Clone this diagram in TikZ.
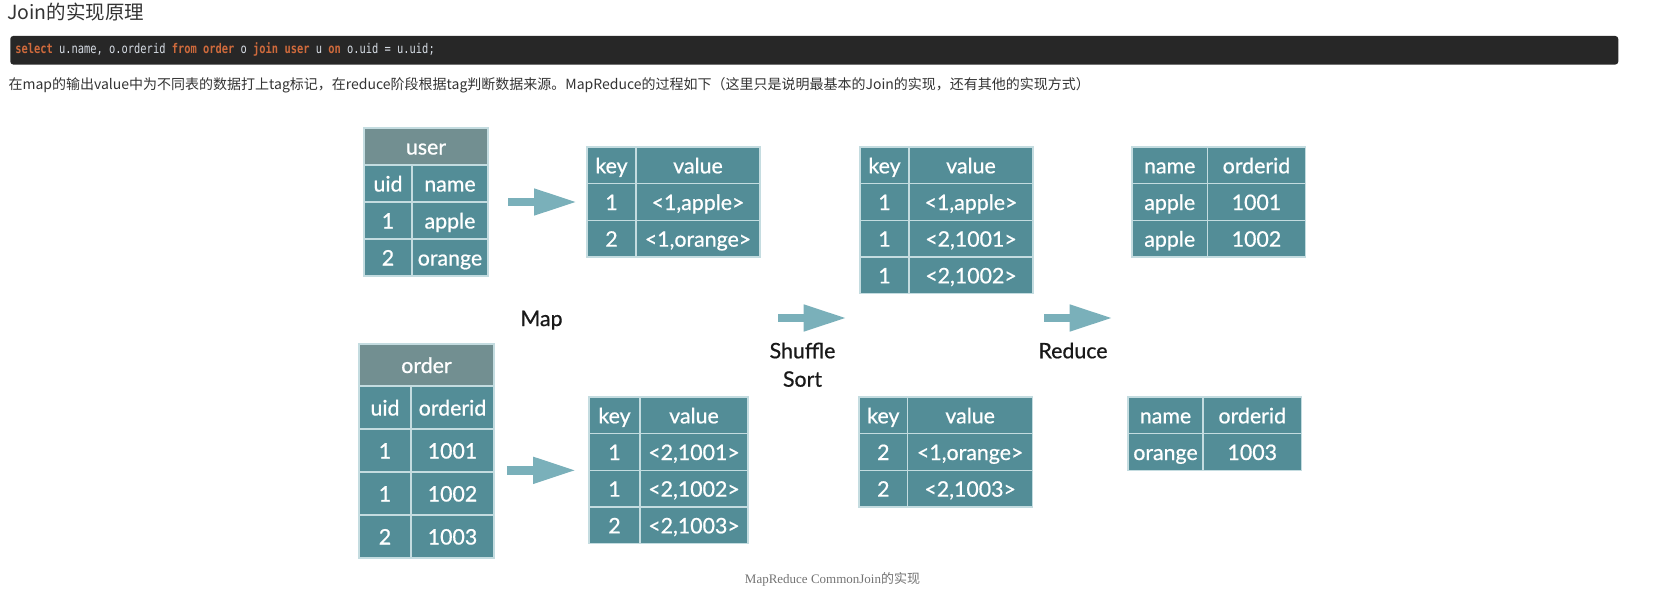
\documentclass[tikz,border=0pt]{standalone}
\usepackage{fontspec}
\usetikzlibrary{arrows.meta,positioning,fit}

\newfontfamily\cellfont[FakeBold=0.7]{Lato}
\newfontfamily\cjkfont{Noto Sans CJK SC}
\newfontfamily\codefont[FakeStretch=0.78]{DejaVu Sans Mono}
\newfontfamily\capfont{Liberation Serif}

\definecolor{tealcell}{RGB}{83,141,151}
\definecolor{tealhead}{RGB}{114,143,145}
\definecolor{gridline}{RGB}{196,220,224}
\definecolor{arrowfill}{RGB}{122,176,186}
\definecolor{codebg}{RGB}{39,39,39}
\definecolor{codekw}{RGB}{207,106,60}
\definecolor{codetxt}{RGB}{214,220,228}
\definecolor{bodytxt}{RGB}{51,51,51}

\newcommand{\kw}[1]{\textcolor{codekw}{\bfseries #1}}

\begin{document}
\begin{tikzpicture}[
  x=0.75pt, y=-0.75pt,
  cell/.style={draw=gridline, line width=1pt, fill=tealcell, text=white, inner sep=0pt, outer sep=0pt,
    font=\cellfont\fontsize{16pt}{19pt}\selectfont, text height=12pt, text depth=0pt, minimum height=27.5pt},
  col/.style={cell, minimum width=#1},
  headcell/.style={cell, fill=tealhead},
  tbl/.style={fit=#1, inner sep=0pt},
  stage/.style={font=\cellfont\fontsize{16pt}{21.3pt}\selectfont, text=black!90, align=center, inner sep=0pt},
  bigarrow/.style={draw=arrowfill, line width=6.25pt, -{Triangle[length=32.5pt, width=18.5pt]}},
  plain/.style={inner sep=0pt, text=bodytxt}
]
\useasboundingbox (0,0) rectangle (1659,599);

% page text above the figure
\node[plain, anchor=base west, font=\cjkfont\fontsize{14.6pt}{16pt}\selectfont] (title) at (7,20) {Join的实现原理};
\node[fill=codebg, rounded corners=2.25pt, anchor=north west, minimum width=1206pt, minimum height=21.45pt] (codebox) at (10,35.7) {};
\node[plain, anchor=base west, text=codetxt, font=\codefont\fontsize{10pt}{12pt}\selectfont] (code) at (15,53.3)
  {\kw{select} u.name, o.orderid \kw{from} \kw{order} o \kw{join} \kw{user} u \kw{on} o.uid = u.uid;};
\node[plain, anchor=base west, font=\cjkfont\fontsize{10.5pt}{12pt}\selectfont] (intro) at (8.3,89.5)
  {在map的输出value中为不同表的数据打上tag标记，在reduce阶段根据tag判断数据来源。MapReduce的过程如下（这里只是说明最基本的Join的实现，还有其他的实现方式）};

% input tables
\begin{scope}[cell/.append style={minimum height=27.75pt}]
\node[headcell, minimum width=93pt, anchor=north west] (u0) at (364,128) {user};
\node[col=36pt, anchor=north west] (u1a) at (u0.south west) {uid};
\node[col=57pt, right=0pt of u1a] (u1b) {name};
\node[col=36pt, below=0pt of u1a] (u2a) {1};
\node[col=57pt, right=0pt of u2a] (u2b) {apple};
\node[col=36pt, below=0pt of u2a] (u3a) {2};
\node[col=57pt, right=0pt of u3a] (u3b) {orange};
\end{scope}
\node[tbl=(u0)(u3b)] (user) {};

\begin{scope}[cell/.append style={minimum height=32.25pt}]
\node[headcell, minimum width=101.25pt, minimum height=31.5pt, anchor=north west] (o0) at (359,344) {order};
\node[col=39pt, anchor=north west] (o1a) at (o0.south west) {uid};
\node[col=62.25pt, right=0pt of o1a] (o1b) {orderid};
\node[col=39pt, below=0pt of o1a] (o2a) {1};
\node[col=62.25pt, right=0pt of o2a] (o2b) {1001};
\node[col=39pt, below=0pt of o2a] (o3a) {1};
\node[col=62.25pt, right=0pt of o3a] (o3b) {1002};
\node[col=39pt, below=0pt of o3a] (o4a) {2};
\node[col=62.25pt, right=0pt of o4a] (o4b) {1003};
\end{scope}
\node[tbl=(o0)(o4b)] (order) {};

% map output
\node[col=36.75pt, anchor=north west] (m1a) at (587,147) {key};
\node[col=93pt, right=0pt of m1a] (m1b) {value};
\node[col=36.75pt, below=0pt of m1a] (m2a) {1};
\node[col=93pt, right=0pt of m2a] (m2b) {<1,apple>};
\node[col=36.75pt, below=0pt of m2a] (m3a) {2};
\node[col=93pt, right=0pt of m3a] (m3b) {<1,orange>};
\node[tbl=(m1a)(m3b)] (map1) {};

\node[col=38.25pt, anchor=north west] (n1a) at (589,397) {key};
\node[col=81pt, right=0pt of n1a] (n1b) {value};
\node[col=38.25pt, below=0pt of n1a] (n2a) {1};
\node[col=81pt, right=0pt of n2a] (n2b) {<2,1001>};
\node[col=38.25pt, below=0pt of n2a] (n3a) {1};
\node[col=81pt, right=0pt of n3a] (n3b) {<2,1002>};
\node[col=38.25pt, below=0pt of n3a] (n4a) {2};
\node[col=81pt, right=0pt of n4a] (n4b) {<2,1003>};
\node[tbl=(n1a)(n4b)] (map2) {};

% shuffle / sort output
\node[col=36.75pt, anchor=north west] (s1a) at (860,147) {key};
\node[col=93pt, right=0pt of s1a] (s1b) {value};
\node[col=36.75pt, below=0pt of s1a] (s2a) {1};
\node[col=93pt, right=0pt of s2a] (s2b) {<1,apple>};
\node[col=36.75pt, below=0pt of s2a] (s3a) {1};
\node[col=93pt, right=0pt of s3a] (s3b) {<2,1001>};
\node[col=36.75pt, below=0pt of s3a] (s4a) {1};
\node[col=93pt, right=0pt of s4a] (s4b) {<2,1002>};
\node[tbl=(s1a)(s4b)] (shuf1) {};

\node[col=36.5pt, anchor=north west] (t1a) at (859,397) {key};
\node[col=93.75pt, right=0pt of t1a] (t1b) {value};
\node[col=36.5pt, below=0pt of t1a] (t2a) {2};
\node[col=93.75pt, right=0pt of t2a] (t2b) {<1,orange>};
\node[col=36.5pt, below=0pt of t2a] (t3a) {2};
\node[col=93.75pt, right=0pt of t3a] (t3b) {<2,1003>};
\node[tbl=(t1a)(t3b)] (shuf2) {};

% reduce output
\node[col=56.6pt, anchor=north west] (r1a) at (1132,147) {name};
\node[col=73.5pt, right=0pt of r1a] (r1b) {orderid};
\node[col=56.6pt, below=0pt of r1a] (r2a) {apple};
\node[col=73.5pt, right=0pt of r2a] (r2b) {1001};
\node[col=56.6pt, below=0pt of r2a] (r3a) {apple};
\node[col=73.5pt, right=0pt of r3a] (r3b) {1002};
\node[tbl=(r1a)(r3b)] (res1) {};

\node[col=56.25pt, anchor=north west] (q1a) at (1128,397) {name};
\node[col=73.9pt, right=0pt of q1a] (q1b) {orderid};
\node[col=56.25pt, below=0pt of q1a] (q2a) {orange};
\node[col=73.9pt, right=0pt of q2a] (q2b) {1003};
\node[tbl=(q1a)(q2b)] (res2) {};

% stage labels and arrows
\coordinate (midline) at (0,318);
\node[stage, anchor=base] (maplbl) at (541.5,326) {Map};
\node[stage, anchor=base] (shuflbl) at (802.5,386.7) {Shuffle\\Sort};
\node[stage, anchor=base] (redlbl) at (1073,358.3) {Reduce};

\draw[bigarrow, shorten <=14.8pt, shorten >=7pt] (user) -- (map1);
\draw[bigarrow, shorten <=9.5pt, shorten >=9.2pt] (order.east |- map2) -- (map2);
\draw[bigarrow, shorten <=13.3pt, shorten >=9.5pt] (map1.east |- midline) -- (shuf1.west |- midline);
\draw[bigarrow, shorten <=8.25pt, shorten >=14pt] (shuf1.east |- midline) -- (res1.west |- midline);

\node[inner sep=0pt, anchor=base, text=black!55, font=\capfont\fontsize{9.75pt}{11pt}\selectfont] (caption) at (832.5,583.5)
  {MapReduce CommonJoin{\cjkfont 的实现}};

\end{tikzpicture}
\end{document}
